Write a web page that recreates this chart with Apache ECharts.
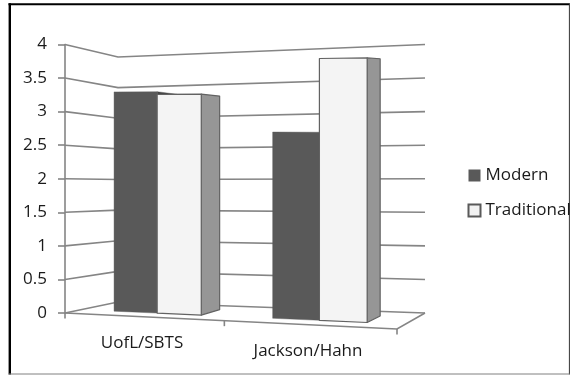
<!DOCTYPE html>
<html>
<head>
<meta charset="utf-8">
<style>html,body{margin:0;padding:0;background:#fff}#chart{width:571px;height:375px}</style>
<script src="https://cdn.jsdelivr.net/npm/echarts@6/dist/echarts.min.js"></script>
</head>
<body>
<div id="chart"></div>
<script>
const categories = ['UofL/SBTS', 'Jackson/Hahn'];
const modern = [3.33, 2.73];
const traditional = [3.29, 3.8];
const gridValues = [0, 0.5, 1, 1.5, 2, 2.5, 3, 3.5, 4];
const floorTicks = [0, 0.5, 1];

const FONT = '"Open Sans", sans-serif';
const GRID_COLOR = '#858585';
const LINE_W = 1.6;

// Oblique box the bars stand in: u runs left to right, d runs front to back.
const BOX = { backX: 53, backXSkew: -25, rise: 16, backY: -11, backYSkew: -5,
              backLeftH: 245, frontRightH: 286, bow: 0.08 };
const BAR_U = 0.14, BAR_NEAR = 0.3, BAR_FAR = 0.72;

function projector(cs) {
  return function (u, d, frac) {
    const p = u - BOX.bow * u * (1 - u);
    const x = cs.x + cs.width * p + d * (BOX.backX + BOX.backXSkew * p);
    const floorY = cs.y + cs.height + BOX.rise * p + d * (BOX.backY + BOX.backYSkew * p);
    const h = (1 - d) * (cs.height * (1 - p) + BOX.frontRightH * p)
            + d * (BOX.backLeftH * (1 - p) + cs.height * p);
    return [x, floorY - h * frac];
  };
}
function fraction(api, cs, v) {
  return (cs.y + cs.height - api.coord([0, v])[1]) / cs.height;
}
function centerU(api, cs, idx) {
  return (api.coord([idx, 0])[0] - cs.x) / cs.width;
}

// Grid lines running along the side wall and the back wall, plus the floor outline.
function renderWalls(params, api) {
  const cs = params.coordSys, P = projector(cs);
  const f = fraction(api, cs, api.value(1));
  return {
    type: 'polyline',
    shape: { points: [P(0, 0, f), P(0, 1, f), P(1, 1, f)] },
    style: { fill: 'none', stroke: GRID_COLOR, lineWidth: LINE_W }
  };
}
function renderFloor(params, api) {
  const cs = params.coordSys, P = projector(cs);
  const t = api.value(1);
  const a = P(t, 0, 0);
  const children = [{
    type: 'line',
    shape: { x1: a[0], y1: a[1], x2: a[0], y2: a[1] + 5.5 },
    style: { stroke: GRID_COLOR, lineWidth: LINE_W }
  }];
  if (params.dataIndex === 0) {
    children.push({
      type: 'polyline',
      shape: { points: [P(1, 1, 0), P(1, 0, 0), P(0, 0, 0)] },
      style: { fill: 'none', stroke: GRID_COLOR, lineWidth: LINE_W }
    });
  }
  return { type: 'group', children };
}

function barRenderer(slot, front, side, edge, edgeW) {
  return function (params, api) {
    const cs = params.coordSys, P = projector(cs);
    const idx = api.value(0);
    const f = fraction(api, cs, api.value(1));
    const u0 = centerU(api, cs, idx) + slot * BAR_U, u1 = u0 + BAR_U;
    const stroke = { stroke: edge, lineWidth: edgeW, lineJoin: 'round' };
    return {
      type: 'group',
      children: [
        { type: 'polygon',
          shape: { points: [P(u1, BAR_NEAR, 0), P(u1, BAR_FAR, 0), P(u1, BAR_FAR, f), P(u1, BAR_NEAR, f)] },
          style: Object.assign({ fill: side }, stroke) },
        { type: 'polygon',
          shape: { points: [P(u0, BAR_NEAR, 0), P(u1, BAR_NEAR, 0), P(u1, BAR_NEAR, f), P(u0, BAR_NEAR, f)] },
          style: Object.assign({ fill: front }, stroke) }
      ]
    };
  };
}

function renderCategoryLabel(params, api) {
  const cs = params.coordSys, P = projector(cs);
  const pos = P(centerU(api, cs, api.value(0)), 0, 0);
  return {
    type: 'text',
    style: { x: pos[0] - 1, y: pos[1] + 26.5, text: categories[api.value(0)],
             font: '17px ' + FONT, fill: '#1a1a1a', align: 'center', verticalAlign: 'middle' }
  };
}

function frameLine(x1, y1, x2, y2, w, color) {
  return { type: 'line', shape: { x1, y1, x2, y2 }, style: { stroke: color, lineWidth: w }, silent: true };
}

const chart = echarts.init(document.getElementById('chart'), null, { renderer: 'canvas' });
chart.setOption({
  animation: false,
  backgroundColor: '#ffffff',
  graphic: [
    frameLine(8.5, 4.2, 569.5, 4.2, 2, '#000000'),
    frameLine(9.8, 3.2, 9.8, 374.5, 2.4, '#000000'),
    frameLine(569.4, 3.2, 569.4, 374.5, 1, '#333333'),
    frameLine(8.5, 374, 569.5, 374, 1, '#808080')
  ],
  grid: { left: 65, top: 44.5, width: 332, height: 268.5, containLabel: false },
  xAxis: { type: 'category', data: categories, show: false },
  yAxis: {
    type: 'value', min: 0, max: 4, interval: 0.5,
    axisLine: { show: true, lineStyle: { color: GRID_COLOR, width: LINE_W } },
    axisTick: { show: true, length: 7, lineStyle: { color: GRID_COLOR, width: LINE_W } },
    axisLabel: { margin: 18, fontFamily: FONT, fontSize: 17, color: '#1a1a1a', padding: [3, 0, 0, 0] },
    splitLine: { show: false }
  },
  legend: {
    data: ['Modern', 'Traditional'],
    icon: 'rect',
    orient: 'vertical', left: 462.5, top: 162, itemWidth: 12, itemHeight: 12, itemGap: 18,
    textStyle: { fontFamily: FONT, fontSize: 17, color: '#1a1a1a' }
  },
  series: [
    { type: 'custom', name: 'walls', silent: true, z: 1,
      data: gridValues.map((v, i) => [i, v]), renderItem: renderWalls },
    { type: 'custom', name: 'floor', silent: true, z: 1,
      data: floorTicks.map((t, i) => [i, t]), renderItem: renderFloor },
    { type: 'custom', name: 'Modern', z: 2, itemStyle: { color: '#595959' },
      data: modern.map((v, i) => [i, v]),
      renderItem: barRenderer(-1, '#595959', '#3e3e3e', '#595959', 0.4) },
    { type: 'custom', name: 'Traditional', z: 3,
      itemStyle: { color: '#f2f2f2', borderColor: '#595959', borderWidth: 1.5 },
      data: traditional.map((v, i) => [i, v]),
      renderItem: barRenderer(0, '#f4f4f4', '#969696', '#626262', 1.2) },
    { type: 'custom', name: 'labels', silent: true, z: 4,
      data: categories.map((c, i) => [i, 0]), renderItem: renderCategoryLabel }
  ]
});
</script>
</body>
</html>
